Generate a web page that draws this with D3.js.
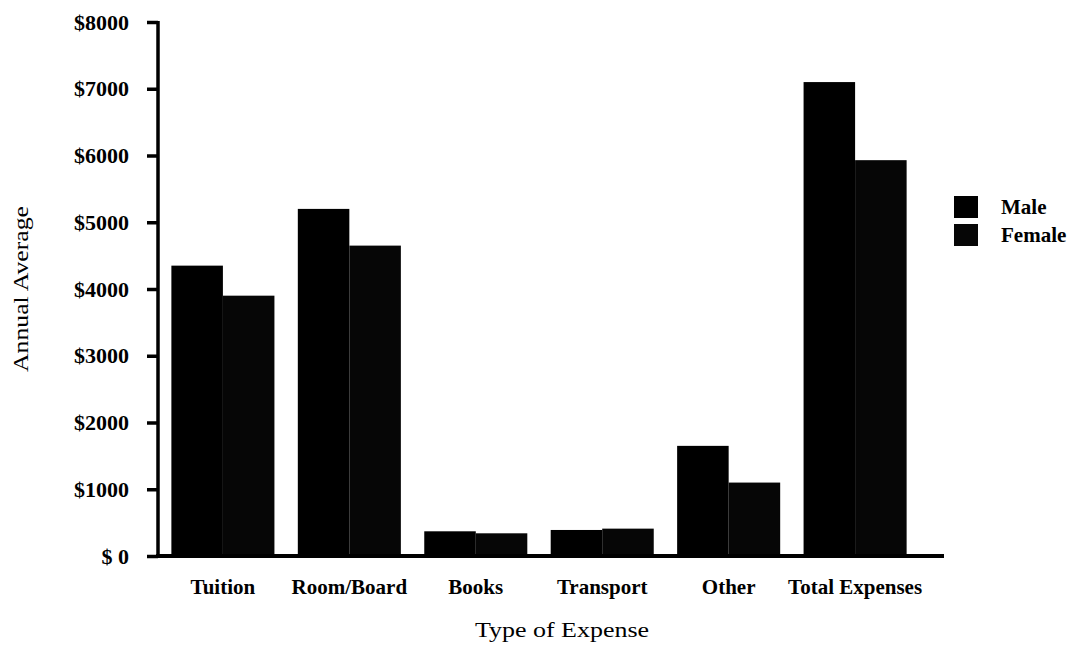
<!DOCTYPE html>
<html>
<head>
<meta charset="utf-8">
<script src="https://cdn.jsdelivr.net/npm/d3@7"></script>
<style>
  html, body { margin: 0; padding: 0; background: #fff; }
  svg { display: block; }
  text { font-family: "Liberation Serif", "Times New Roman", serif; fill: #000; }
</style>
</head>
<body>
<svg id="chart" width="1071" height="651"></svg>
<script>
// Average annual student expenses by gender
const categories = ["Tuition", "Room/Board", "Books", "Transport", "Other", "Total Expenses"];
const series = ["Male", "Female"];
const maleValues = [4350, 5200, 370, 390, 1650, 7100];
const femaleValues = [3900, 4650, 340, 410, 1100, 5930];
const yTicks = [0, 1000, 2000, 3000, 4000, 5000, 6000, 7000, 8000];
const seriesColors = ["#000000", "#060606"];

const svg = d3.select("#chart");

const x0 = d3.scaleBand().domain(categories).range([160, 918]).paddingInner(0.185).paddingOuter(0.09);
const x1 = d3.scaleBand().domain(series).range([0, x0.bandwidth()]);
const y = d3.scaleLinear().domain([0, 8000]).range([556, 22]);
const color = d3.scaleOrdinal().domain(series).range(seriesColors);

const rows = categories.map((c, i) => ({ category: c, values: [maleValues[i], femaleValues[i]] }));

// Bars
const groups = svg.append("g").selectAll("g").data(rows).join("g")
  .attr("transform", d => `translate(${x0(d.category)},0)`);
groups.selectAll("rect")
  .data(d => d.values.map((v, j) => ({ key: series[j], value: v })))
  .join("rect")
  .attr("x", d => x1(d.key))
  .attr("y", d => y(d.value))
  .attr("width", x1.bandwidth())
  .attr("height", d => y(0) - y(d.value))
  .attr("fill", d => color(d.key));

// Y axis
const yAxis = d3.axisLeft(y).tickValues(yTicks).tickSize(11).tickPadding(18)
  .tickFormat(d => d === 0 ? "$ 0" : "$" + d);
const gy = svg.append("g").attr("transform", "translate(158,0)").call(yAxis);
gy.select(".domain").attr("d", "M0,21V557").attr("stroke", "#000").attr("stroke-width", 3.5);
gy.selectAll(".tick line").attr("stroke", "#000").attr("stroke-width", 3.5);
gy.selectAll(".tick text")
  .style("font-family", "Liberation Serif, serif")
  .style("font-size", "22px").style("font-weight", "bold");

// X axis baseline and category labels
const xAxis = d3.axisBottom(x0).tickSize(0).tickPadding(23);
const gx = svg.append("g").attr("transform", `translate(0,${y(0)})`).call(xAxis);
gx.select(".domain").attr("d", "M156,0H944").attr("stroke", "#000").attr("stroke-width", 4);
gx.selectAll(".tick text")
  .style("font-family", "Liberation Serif, serif")
  .style("font-size", "21px").style("font-weight", "bold");

// Axis titles
svg.append("text")
  .attr("transform", "translate(28,289) rotate(-90)")
  .attr("text-anchor", "middle")
  .attr("textLength", 166).attr("lengthAdjust", "spacingAndGlyphs")
  .style("font-size", "22px")
  .text("Annual Average");
svg.append("text")
  .attr("x", 562).attr("y", 637)
  .attr("text-anchor", "middle")
  .attr("textLength", 174).attr("lengthAdjust", "spacingAndGlyphs")
  .style("font-size", "22px")
  .text("Type of Expense");

// Legend
const legend = svg.append("g").attr("transform", "translate(954,196)");
const items = legend.selectAll("g").data(series).join("g")
  .attr("transform", (d, i) => `translate(0,${i * 28})`);
items.append("rect").attr("width", 24).attr("height", 22).attr("fill", d => color(d));
items.append("text").attr("x", 47).attr("y", 18)
  .style("font-size", "21px").style("font-weight", "bold")
  .text(d => d);
</script>
</body>
</html>
